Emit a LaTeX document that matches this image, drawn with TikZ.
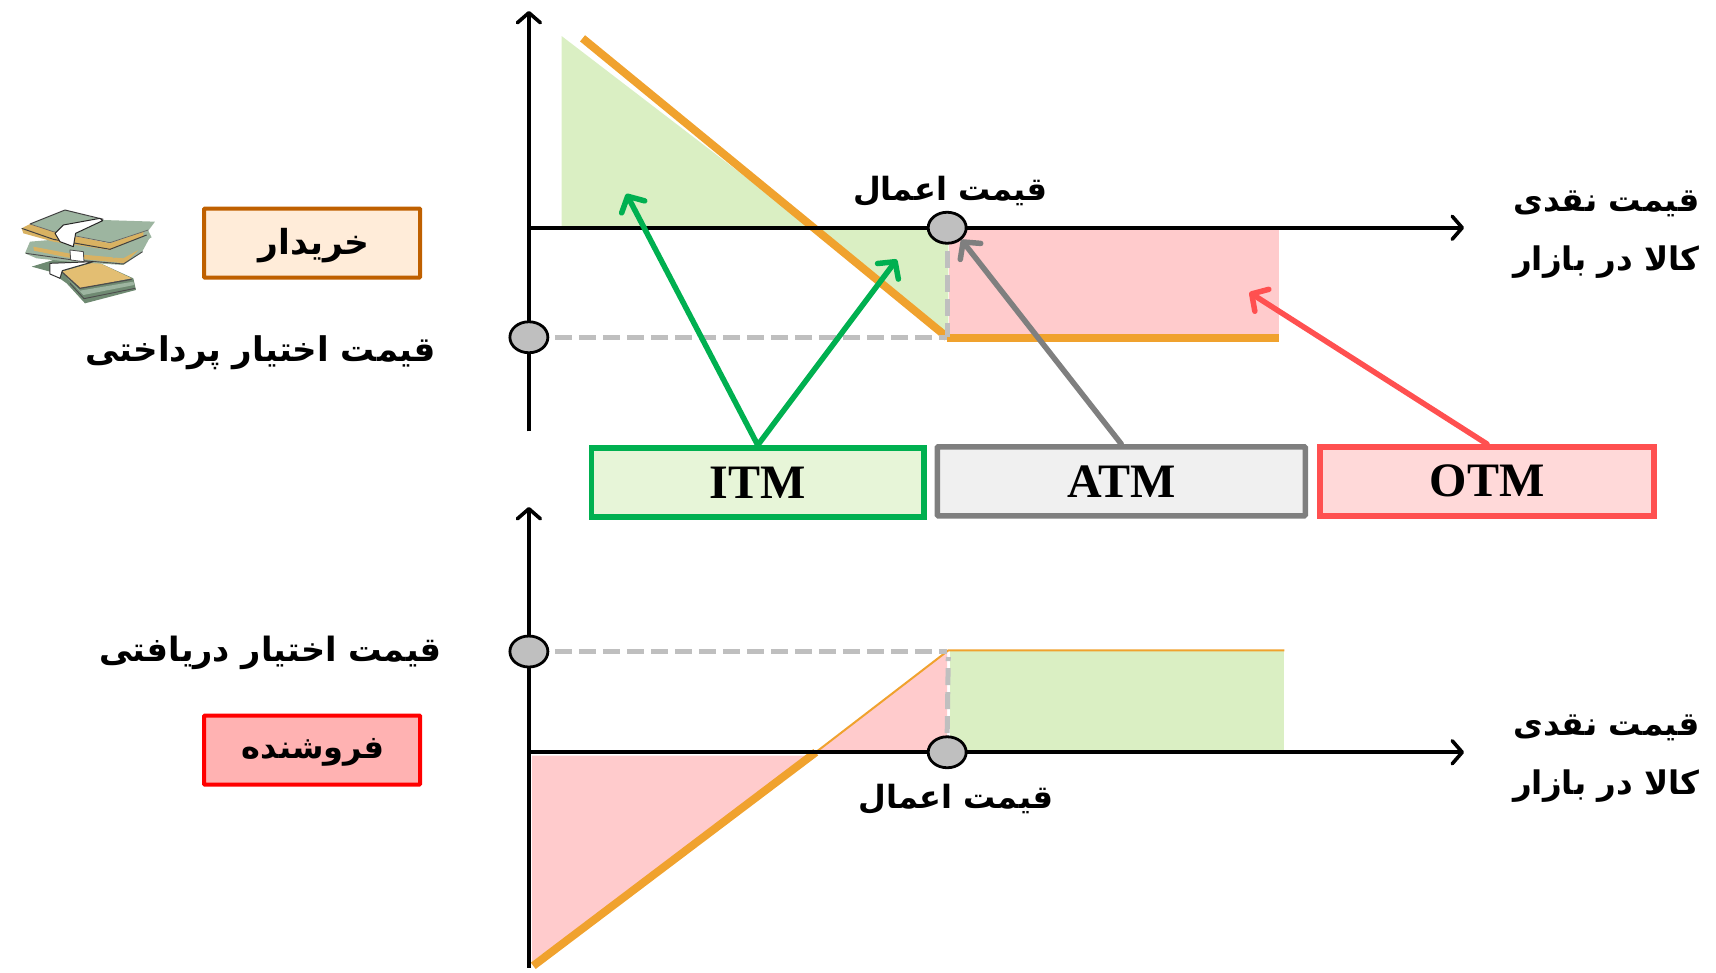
\documentclass[tikz,border=0pt]{standalone}
\usepackage{fontspec}
\usetikzlibrary{arrows.meta,shapes.geometric}
\setmainfont{Liberation Serif}
\newfontfamily\fa[Script=Arabic]{DejaVu Sans}
\TeXXeTstate=1
\definecolor{cgreen}{HTML}{00B050}
\definecolor{cgray}{HTML}{7F7F7F}
\definecolor{cred}{HTML}{FF5050}
\definecolor{corange}{HTML}{F0A22E}
\definecolor{fgreen}{HTML}{DAEFC3}
\definecolor{fpink}{HTML}{FFCBCC}
\definecolor{dashgray}{HTML}{BFBFBF}
\definecolor{billg}{HTML}{9DB5A0}
\definecolor{billd}{HTML}{6F8A72}
\definecolor{billt}{HTML}{D9B262}
\definecolor{billy}{HTML}{E3BE72}
\newcommand{\fatext}[1]{{\fa\bfseries\beginR #1\endR}}
\newcommand{\fsz}[1]{\fontsize{#1}{#1}\selectfont}
\tikzset{
  x=1.095pt,y=-1.095pt,
  axisline/.style={line width=3.6pt,black,-{Straight Barb[round,length=10pt,width=23pt]}},
  payoff/.style={corange,line width=8pt},
  thinpay/.style={corange,line width=2pt},
  guide/.style={dashgray,line width=5pt,dash pattern=on 17pt off 7pt},
  marker/.style={ellipse,draw=black,fill=dashgray,line width=2.8pt,minimum width=38pt,minimum height=31pt,inner sep=0pt},
  mbox/.style={draw,line width=5.5pt,inner sep=0pt,font=\fsz{48}\bfseries},
  rolebox/.style={draw,line width=4pt,inner sep=0pt,rounded corners=0.8pt},
  fatxt/.style={inner sep=0pt,black,align=center},
  callout/.style={line width=5.5pt,line cap=round,-{Straight Barb[round,length=12pt,width=26pt]}}
}
\begin{document}
\begin{tikzpicture}
\useasboundingbox (0pt,0pt) rectangle (1716pt,-973pt);
% fills top
\fill[fgreen] (513,33) -- (513,207) -- (740,207) -- cycle;
\fill[fgreen] (740,210) -- (866,210) -- (866,307) -- cycle;
\fill[fpink] (867,210) rectangle (1168,308);
% fills bottom
\fill[fpink] (486,690) -- (486,878) -- (745,690) -- cycle;
\fill[fpink] (745,687) -- (865,595) -- (865,687) -- cycle;
\fill[fgreen] (868,594) rectangle (1173,686);
% coordinates
\coordinate (tOrigin) at (483,208);
\coordinate (tTop) at (483,10);
\coordinate (tBot) at (483,394);
\coordinate (tRight) at (1337,208);
\coordinate (bOrigin) at (483,687);
\coordinate (bTop) at (483,463);
\coordinate (bBot) at (483,884);
\coordinate (bRight) at (1337,687);
\coordinate (tA) at (532,35);
\coordinate (tKink) at (865,308);
\coordinate (tEnd) at (1168,309);
\coordinate (bA) at (487,882);
\coordinate (bCross) at (745,687);
\coordinate (bKink) at (866,594);
\coordinate (bEnd) at (1173,594);
% payoff lines
\draw[payoff] (tA) -- (tKink);
\draw[payoff] (865,309) -- (tEnd);
\draw[payoff] (bA) -- (bCross);
\draw[thinpay] (bCross) -- (bKink) -- (bEnd);
% axes
\draw[axisline] (tBot) -- (tTop);
\draw[axisline] (tOrigin) -- (tRight);
\draw[axisline] (bBot) -- (bTop);
\draw[axisline] (bOrigin) -- (bRight);
% markers
\node[marker] (mStrikeT) at (865,208) {};
\node[marker] (mPremT) at (483,308) {};
\node[marker] (mStrikeB) at (865,687) {};
\node[marker] (mPremB) at (483,595) {};
\draw[guide] (mPremT.east) ++(5,0) -- (tKink);
\draw[guide] (mStrikeT.south) ++(0,6) -- (tKink);
\draw[guide] (mPremB.east) ++(5,0) -- (865,595);
\draw[guide] (mStrikeB.north) ++(0,-2) -- (866,600);
% boxes
\node[mbox,draw=cgreen,fill=fgreen!65!white,minimum width=332pt,minimum height=69pt] (itm) at (692,440.5) {ITM};
\node[mbox,draw=cgray,fill=black!6,minimum width=368pt,minimum height=69pt,rounded corners=1pt] (atm) at (1024,439.5) {ATM};
\node[mbox,draw=cred,fill=cred!22!white,minimum width=334pt,minimum height=69pt] (otm) at (1358,439.5) {OTM};
% callouts
\coordinate (c1) at (572,177);
\coordinate (c2) at (819,237);
\coordinate (c3) at (878,219);
\coordinate (c4) at (1141,267);
\draw[callout,cgreen] (itm.north) -- (c1);
\draw[callout,cgreen] (itm.north) -- (c2);
\draw[callout,cgray] (atm.north) -- (c3);
\draw[callout,cred] (otm.north) -- (c4);
% role boxes
\node[rolebox,draw=orange!75!black,fill=orange!15!white,minimum width=216pt,minimum height=69pt] (buyer) at (285,222) {};
\node[rolebox,draw=red,fill=red!30!white,minimum width=216pt,minimum height=69pt] (seller) at (285,685) {};
% text
\node[fatxt,font=\fsz{34.5}] (tBuyer) at (287,224) {\fatext{خریدار}};
\node[fatxt,font=\fsz{32}] (tSeller) at (286,687) {\fatext{فروشنده}};
\node[fatxt,font=\fsz{34}] (tPay) at (238,322) {\fatext{قیمت اختیار پرداختی}};
\node[fatxt,font=\fsz{33.5}] (tRec) at (247,596) {\fatext{قیمت اختیار دریافتی}};
\node[fatxt,font=\fsz{32}] (tK1) at (868,175) {\fatext{قیمت اعمال}};
\node[fatxt,font=\fsz{32}] (tK2) at (873,730) {\fatext{قیمت اعمال}};
\node[fatxt,font=\fontsize{32.5}{59}\selectfont] (tS1) at (1467,214) {\fatext{قیمت نقدی}\\\fatext{کالا در بازار}};
\node[fatxt,font=\fontsize{32.5}{59}\selectfont] (tS2) at (1467,693) {\fatext{قیمت نقدی}\\\fatext{کالا در بازار}};
% money icon
\begin{scope}[shift={(10pt,-200pt)},x=0.3333pt,y=-0.3333pt,line join=round]
% lower bundle
\fill[billd] (65,200) -- (130,180) -- (260,185) -- (370,235) -- (378,270) -- (225,310) -- (170,250) -- (120,215) -- cycle;
\fill[billy] (155,215) -- (260,185) -- (365,235) -- (210,265) -- cycle;
\draw[black!70,line width=1.2pt] (155,215) -- (210,265) -- (365,238);
\fill[billg] (170,232) -- (210,272) -- (370,245) -- (373,255) -- (220,285) -- cycle;
\draw[black!70,line width=0.9pt] (180,250) -- (222,296) -- (376,265);
% middle stack
\fill[billg] (45,160) -- (60,125) -- (120,120) -- (300,150) -- (422,108) -- (395,158) -- (340,195) -- (175,185) -- (80,175) -- cycle;
\fill[billt] (70,140) -- (175,160) -- (340,175) -- (385,150) -- (345,190) -- (170,172) -- (72,152) -- cycle;
\draw[black!70,line width=0.9pt] (48,160) -- (175,178) -- (340,192) -- (398,155);
% upper bundle
\fill[billg] (60,72) -- (165,30) -- (280,60) -- (435,65) -- (415,92) -- (425,112) -- (310,175) -- (300,130) -- (130,95) -- cycle;
\fill[billt] (35,85) -- (60,72) -- (130,95) -- (300,130) -- (400,95) -- (400,108) -- (300,150) -- (130,125) -- (40,100) -- cycle;
\draw[black!75,line width=1pt] (60,72) -- (165,30) -- (280,58);
\draw[black!75,line width=1pt] (35,85) -- (130,118) -- (300,148) -- (410,105);
\draw[black!60,line width=0.7pt] (60,72) -- (130,95) -- (300,128) -- (415,90);
% bands
\fill[white,draw=black!85,line width=1pt] (135,100) -- (160,75) -- (270,55) -- (278,62) -- (197,100) -- (190,140) -- (150,125) -- cycle;
\fill[white,draw=black!70,line width=0.8pt] (180,150) -- (220,155) -- (222,185) -- (182,180) -- cycle;
\fill[white,draw=black!80,line width=1pt] (120,190) -- (250,185) -- (157,212) -- (150,235) -- (120,222) -- cycle;
\end{scope}
\end{tikzpicture}
\end{document}
